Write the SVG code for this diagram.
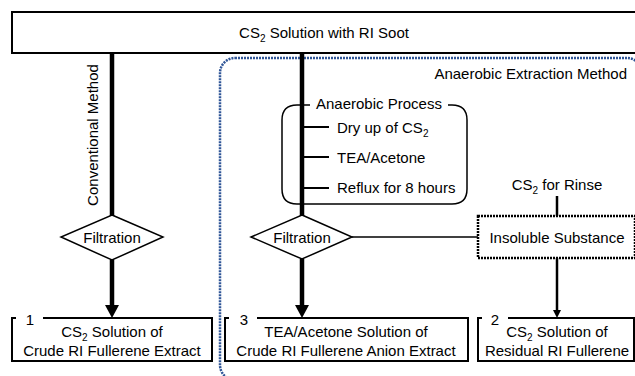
<svg xmlns="http://www.w3.org/2000/svg" width="635" height="376" viewBox="0 0 635 376">
<defs>
<style>
text{font-family:"Liberation Sans",Arial,sans-serif;font-size:15px;fill:#000}
.c{text-anchor:middle}
.box{fill:#fff;stroke:#000;stroke-width:2}
.thin{fill:none;stroke:#000;stroke-width:1.5}
.thick{fill:none;stroke:#000;stroke-width:4.5}
.sub{font-size:10px}
.num{font-size:15px}
</style>
</defs>
<rect width="635" height="376" fill="#fff"/>

<g id="region-anaerobic">
<rect x="220" y="58" width="422" height="322" rx="15" ry="15" fill="none" stroke="#2F5597" stroke-width="2.5" stroke-dasharray="2 1"/>
<text x="627" y="79" text-anchor="end">Anaerobic Extraction Method</text>
</g>

<g id="connectors">
<line class="thick" x1="112" y1="53" x2="112" y2="216"/>
<line class="thick" x1="112" y1="260" x2="112" y2="306"/>
<path d="M105,305 L119,305 L112,318 Z" fill="#000"/>
<line class="thick" x1="302" y1="53" x2="302" y2="216"/>
<line class="thick" x1="302" y1="259" x2="302" y2="306"/>
<path d="M295,305 L309,305 L302,318 Z" fill="#000"/>
<line class="thin" x1="352" y1="237" x2="478" y2="237"/>
<line x1="557" y1="196" x2="557" y2="216" stroke="#000" stroke-width="2.5"/>
<line x1="557" y1="258" x2="557" y2="311" stroke="#000" stroke-width="2.5"/>
<path d="M553,310 L561,310 L557,318 Z" fill="#000"/>
<line x1="302" y1="127" x2="329" y2="127" stroke="#000" stroke-width="2"/>
<line x1="302" y1="157" x2="329" y2="157" stroke="#000" stroke-width="2"/>
<line x1="302" y1="188" x2="329" y2="188" stroke="#000" stroke-width="2"/>
</g>

<g id="top">
<rect class="box" x="12" y="12" width="630" height="41"/>
<text class="c" x="324" y="38">CS<tspan class="sub" dy="4">2</tspan><tspan dy="-4"> Solution with RI Soot</tspan></text>
</g>

<g id="label-conventional">
<text class="c" transform="translate(98,135) rotate(-90)">Conventional Method</text>
</g>

<g id="anaerobic-process">
<path class="thin" d="M310,105 L297,105 Q282,105 282,120 L282,189 Q282,204 297,204 L452,204 Q467,204 467,189 L467,120 Q467,105 452,105 L448,105"/>
<text x="316" y="109">Anaerobic Process</text>
<text x="337" y="133">Dry up of CS<tspan class="sub" dy="4">2</tspan></text>
<text x="337" y="163">TEA/Acetone</text>
<text x="337" y="193">Reflux for 8 hours</text>
</g>

<g id="filtration-1">
<polygon points="112,215 163,237 112,260 61,237" fill="#fff" stroke="#000" stroke-width="1.5"/>
<text class="c" x="112" y="243">Filtration</text>
</g>

<g id="filtration-2">
<polygon points="302,215 352,237 302,259 251,237" fill="#fff" stroke="#000" stroke-width="1.5"/>
<text class="c" x="302" y="243">Filtration</text>
</g>

<g id="cs2-rinse">
<text class="c" x="557" y="190">CS<tspan class="sub" dy="4">2</tspan><tspan dy="-4"> for Rinse</tspan></text>
</g>

<g id="insoluble">
<rect x="478" y="216" width="157" height="42" fill="#fff" stroke="#000" stroke-width="2.5" stroke-dasharray="2 1"/>
<text class="c" x="557" y="243">Insoluble Substance</text>
</g>

<g id="result-1">
<path class="box" d="M16,318 L12,318 L12,361 L212,361 L212,318 L43,318" fill="none"/>
<text class="c num" x="30" y="325">1</text>
<text class="c" x="112" y="337">CS<tspan class="sub" dy="4">2</tspan><tspan dy="-4"> Solution of</tspan></text>
<text class="c" x="112" y="356">Crude RI Fullerene Extract</text>
</g>

<g id="result-3">
<path class="box" d="M229,318 L225,318 L225,361 L468,361 L468,318 L257,318" fill="none"/>
<text class="c num" x="244" y="325">3</text>
<text class="c" x="346" y="337">TEA/Acetone Solution of</text>
<text class="c" x="346" y="356">Crude RI Fullerene Anion Extract</text>
</g>

<g id="result-2">
<path class="box" d="M482,318 L478,318 L478,361 L634,361 L634,318 L508,318" fill="none"/>
<text class="c num" x="495" y="325">2</text>
<text class="c" x="557" y="337">CS<tspan class="sub" dy="4">2</tspan><tspan dy="-4"> Solution of</tspan></text>
<text class="c" x="557" y="356">Residual RI Fullerene</text>
</g>
</svg>
